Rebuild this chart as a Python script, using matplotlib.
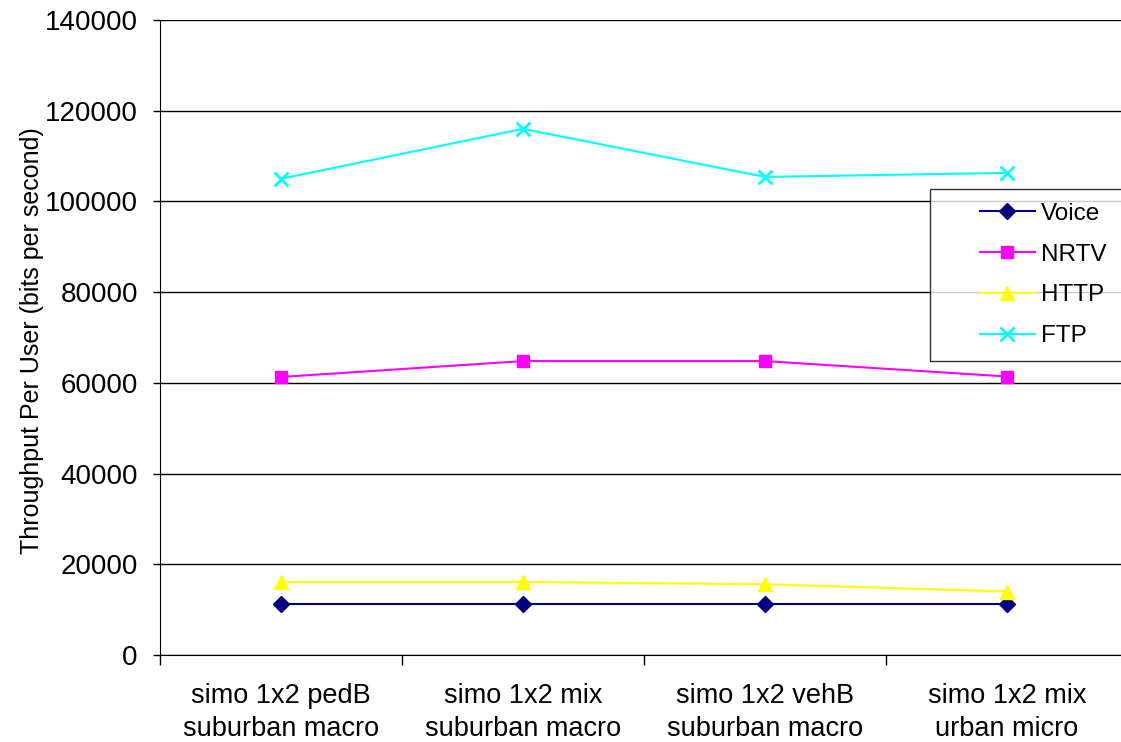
import matplotlib
matplotlib.use("Agg")
import matplotlib.pyplot as plt
from matplotlib.legend_handler import HandlerLine2D
import numpy as np

categories = ["simo 1x2 pedB\nsuburban macro", "simo 1x2 mix\nsuburban macro",
              "simo 1x2 vehB\nsuburban macro", "simo 1x2 mix\nurban micro"]
voice = [11300, 11300, 11300, 11300]
nrtv = [61300, 64800, 64800, 61400]
http = [16100, 16100, 15600, 14000]
ftp = [105000, 116000, 105400, 106300]
yticks = [0, 20000, 40000, 60000, 80000, 100000, 120000, 140000]

plt.rcParams['font.family'] = ['Liberation Sans', 'DejaVu Sans']

fig = plt.figure(figsize=(11.21, 7.42), dpi=100)
W, H = 1121, 742
left, right, top, bottom = 160, 1128, 20, 655
ax = fig.add_axes([left / W, 1 - bottom / H, (right - left) / W, (bottom - top) / H])

x = np.arange(len(categories))
ax.plot(x, voice, color='#000080', marker='D', markersize=8, lw=1.5, label='Voice')
ax.plot(x, nrtv, color='#FF00FF', marker='s', markersize=8, lw=1.5, label='NRTV')
ax.plot(x, http, color='#FFFF00', marker='^', markersize=10, lw=1.5, label='HTTP')
ax.plot(x, ftp, color='#00FFFF', marker='x', markersize=10, mew=2, lw=1.5, label='FTP')

ax.set_xlim(-0.5, len(categories) - 0.5)
ax.set_ylim(0, 140000)
ax.set_yticks(yticks)
ax.set_yticklabels([str(v) for v in yticks], fontsize=20)
ax.yaxis.grid(True, color='black', lw=1)
ax.set_axisbelow(True)

ax.set_xticks(x)
ax.set_xticklabels(categories, fontsize=19.5, linespacing=1.35)
ax.tick_params(axis='x', length=0, pad=20)
ax.set_xticks(np.arange(len(categories) + 1) - 0.5, minor=True)
ax.tick_params(axis='x', which='minor', length=7, width=1, direction='out', color='black')
ax.tick_params(axis='y', length=5, width=1, direction='out', pad=11)

for s in ['top', 'right']:
    ax.spines[s].set_visible(False)
ax.spines['left'].set_color('black')
ax.spines['bottom'].set_color('black')

ax.set_ylabel('Throughput Per User (bits per second)', fontsize=18)
ax.yaxis.set_label_coords((44 - left) / (right - left), (bottom - 340.5) / (bottom - top))

fs = 17.5
fs_px = fs * 100 / 72
hl = HandlerLine2D(xpad=36 / fs_px)
x0 = (930 - left) / (right - left)
y1 = (bottom - 189) / (bottom - top)
leg = ax.legend(loc='upper left', bbox_to_anchor=(x0, y1 - 0.3, (1140 - 930) / (right - left), 0.3),
                mode='expand',
                fontsize=fs, frameon=True, fancybox=False, edgecolor='black',
                borderpad=0.57, labelspacing=0.77, handlelength=(36 + 55) / fs_px,
                handletextpad=0.25, borderaxespad=0,
                handler_map={l: hl for l in ax.get_lines()})
leg.get_frame().set_linewidth(1)

fig.savefig('out.png', dpi=100)
